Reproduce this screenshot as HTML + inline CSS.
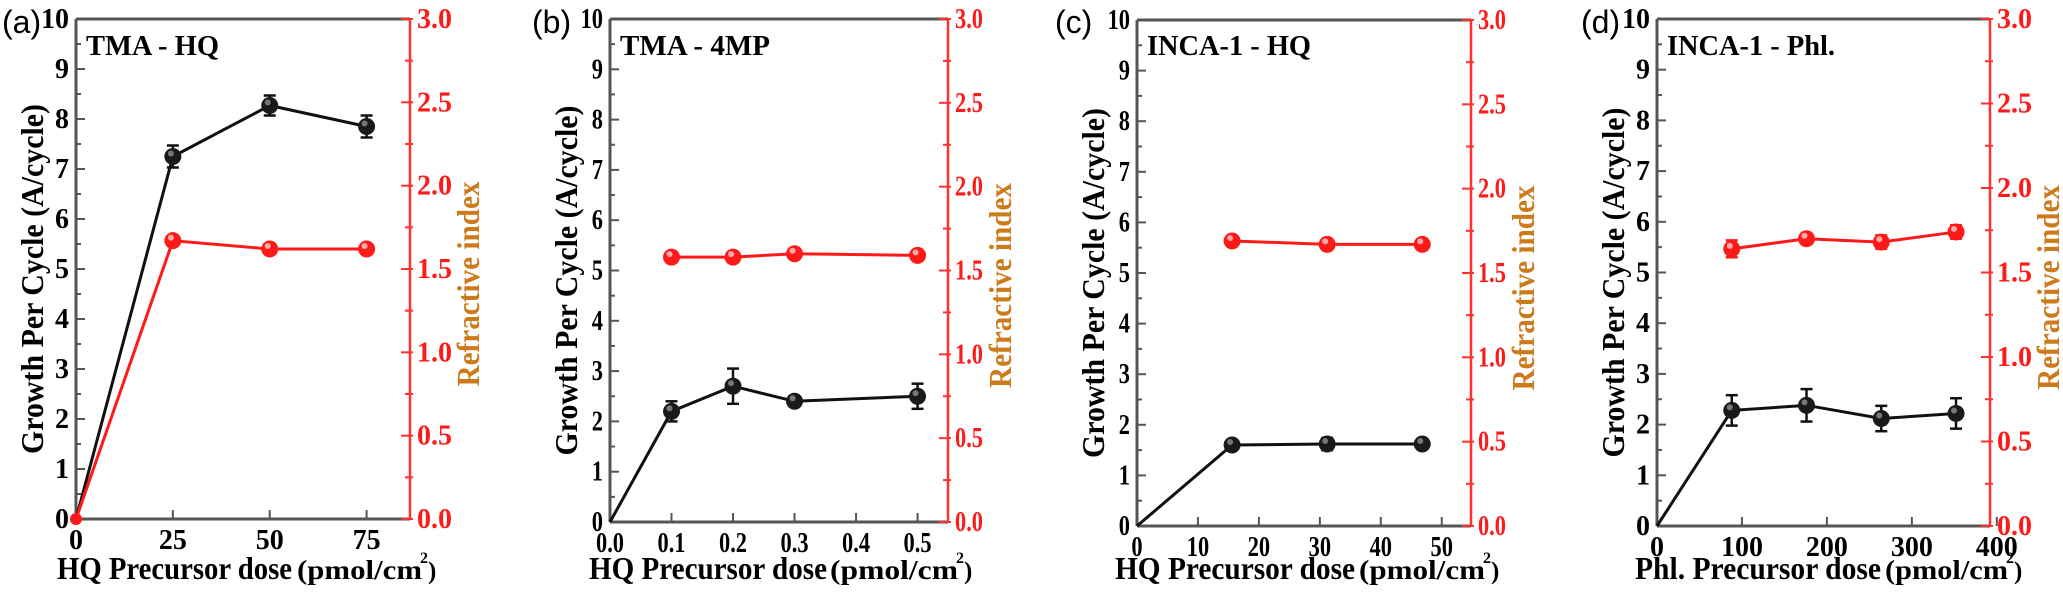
<!DOCTYPE html>
<html><head><meta charset="utf-8"><style>
html,body{margin:0;padding:0;background:#fff;}
svg{display:block;}
text{font-family:"Liberation Serif","DejaVu Serif",serif;font-weight:bold;}
</style></head><body>
<svg id="s" width="2063" height="596" viewBox="0 0 2063 596" xmlns="http://www.w3.org/2000/svg" font-family="Liberation Serif, serif" font-weight="bold"></svg>
<script>
const P=[
 {lab:"(a)",lx:2,title:"TMA - HQ",tw:133,L:76,R:410,T:19,B:519,xmax:86.2,xt:[[0,"0"],[25,"25"],[50,"50"],[75,"75"]],
  xl:"HQ Precursor dose",mx:57,ml:235,px:297,pl:135,
  k:[[0,0,0],[25,7.25,0.22],[50,8.27,0.2],[75,7.85,0.22]],r:[[0,0],[25,1.67],[50,1.62],[75,1.62]],condensed:false},
 {lab:"(b)",lx:532,title:"TMA - 4MP",tw:150,L:610,R:948,T:19,B:522,xmax:0.5495,xt:[[0,"0.0"],[0.1,"0.1"],[0.2,"0.2"],[0.3,"0.3"],[0.4,"0.4"],[0.5,"0.5"]],
  xl:"HQ Precursor dose",mx:589,ml:238,px:830,pl:138,
  k:[[0,0,0],[0.1,2.2,0.2],[0.2,2.7,0.35],[0.3,2.4,0.08],[0.5,2.5,0.25]],r:[[0.1,1.58],[0.2,1.58],[0.3,1.6],[0.5,1.59]],condensed:true},
 {lab:"(c)",lx:1055,title:"INCA-1 - HQ",tw:164,L:1137,R:1471,T:20,B:526,xmax:54.8,xt:[[0,"0"],[10,"10"],[20,"20"],[30,"30"],[40,"40"],[50,"50"]],
  xl:"HQ Precursor dose",mx:1115,ml:240,px:1359,pl:136,
  k:[[0,0,0],[15.6,1.6,0.05],[31.2,1.62,0.12],[46.8,1.62,0.05]],r:[[15.6,1.69],[31.2,1.67],[46.8,1.67]],condensed:true},
 {lab:"(d)",lx:1581,title:"INCA-1 - Phl.",tw:168,L:1657,R:1990,T:19,B:526,xmax:392,xt:[[0,"0"],[100,"100"],[200,"200"],[300,"300"],[400,"400"]],
  xl:"Phl. Precursor dose",mx:1635,ml:246,px:1885,pl:133,
  k:[[0,0,0],[88,2.28,0.3],[176,2.38,0.32],[264,2.12,0.25],[352,2.22,0.3]],r:[[88,1.64,0.05],[176,1.7,0.03],[264,1.68,0.04],[352,1.74,0.04]],condensed:false}
];
const F='font-family="Liberation Serif, serif" font-weight="bold"';
let h='';
for(const p of P){
 const X=v=>p.L+(p.R-p.L)*v/p.xmax, Y=v=>p.B-(p.B-p.T)*v/10, YR=v=>p.B-(p.B-p.T)*v/3;
 const sx=p.condensed?0.8:1;
 h+=`<line x1="${p.L}" y1="${p.T}" x2="${p.R}" y2="${p.T}" stroke="#555" stroke-width="3"/>`;
 h+=`<line x1="${p.L}" y1="${p.T}" x2="${p.L}" y2="${p.B}" stroke="#555" stroke-width="3"/>`;
 h+=`<line x1="${p.L}" y1="${p.B}" x2="${p.R}" y2="${p.B}" stroke="#555" stroke-width="3"/>`;
 h+=`<line x1="${p.R}" y1="${p.T}" x2="${p.R}" y2="${p.B}" stroke="#ff3030" stroke-width="2.5"/>`;
 for(let i=0;i<=20;i++){const y=Y(i/2);h+=`<line x1="${p.L}" y1="${y}" x2="${p.L+(i%2?5:9)}" y2="${y}" stroke="#555" stroke-width="2"/>`;
  if(i%2==0){h+=`<text ${F} x="${p.L-7}" y="${y+9}" font-size="28" text-anchor="end" transform="translate(${p.L-7} 0) scale(${sx} 1) translate(${-(p.L-7)} 0)">${i/2}</text>`;}}
 for(let i=0;i<=12;i++){const y=YR(i/4);h+=`<line x1="${p.R+3}" y1="${y}" x2="${p.R-(i%2?5:9)}" y2="${y}" stroke="#ff3030" stroke-width="2"/>`;
  if(i%2==0){h+=`<text ${F} x="${p.R+7}" y="${y+9}" font-size="28" fill="#ff1a1a" transform="translate(${p.R+7} 0) scale(${sx} 1) translate(${-(p.R+7)} 0)">${(i/4).toFixed(1)}</text>`;}}
 for(const [v,s] of p.xt){const x=X(v);h+=`<line x1="${x}" y1="${p.B}" x2="${x}" y2="${p.B-9}" stroke="#555" stroke-width="2"/>`;
  h+=`<text ${F} x="${x}" y="${p.B+30}" font-size="28" text-anchor="middle" transform="translate(${x} 0) scale(${sx} 1) translate(${-x} 0)">${s}</text>`;}
 h+=`<text x="${p.lx}" y="33" font-size="32" font-family="Liberation Sans, sans-serif" font-weight="normal" style="font-family:'Liberation Sans',sans-serif;font-weight:normal">${p.lab}</text>`;
 h+=`<text ${F} x="${p.L+10}" y="55" font-size="29" textLength="${p.tw}" lengthAdjust="spacingAndGlyphs">${p.title}</text>`;
 h+=`<text ${F} x="${p.mx}" y="579" font-size="32" textLength="${p.ml}" lengthAdjust="spacingAndGlyphs">${p.xl}</text>`;
 h+=`<text ${F} x="${p.px}" y="579" font-size="27" textLength="${p.pl-10}" lengthAdjust="spacingAndGlyphs">(pmol/cm</text>`;
 h+=`<text ${F} x="${p.px+p.pl-12}" y="563" font-size="16">2</text>`;
 h+=`<text ${F} x="${p.px+p.pl-4}" y="579" font-size="25">)</text>`;
 const ycy=(p.T+p.B)/2+5;
 h+=`<text ${F} transform="translate(${p.L-33} ${ycy+5}) rotate(-90)" font-size="32" text-anchor="middle" textLength="350" lengthAdjust="spacingAndGlyphs">Growth Per Cycle (A/cycle)</text>`;
 h+=`<text ${F} transform="translate(${p.R+(p.condensed?63:69)} ${ycy+10}) rotate(-90)" font-size="32" fill="#cc7a1a" text-anchor="middle" textLength="205" lengthAdjust="spacingAndGlyphs">Refractive index</text>`;
 h+=`<polyline fill="none" stroke="#111" stroke-width="3" points="${p.k.map(d=>X(d[0])+','+Y(d[1])).join(' ')}"/>`;
 h+=`<polyline fill="none" stroke="#ff1a1a" stroke-width="3" points="${p.r.map(d=>X(d[0])+','+YR(d[1])).join(' ')}"/>`;
 for(const d of p.k){const x=X(d[0]),y=Y(d[1]);
  if(d[1]==0){continue;}
  const e=d[2]*(p.B-p.T)/10;
  if(e>3){h+=`<line x1="${x}" y1="${y-e}" x2="${x}" y2="${y+e}" stroke="#111" stroke-width="2.5"/><line x1="${x-6}" y1="${y-e}" x2="${x+6}" y2="${y-e}" stroke="#111" stroke-width="2.5"/><line x1="${x-6}" y1="${y+e}" x2="${x+6}" y2="${y+e}" stroke="#111" stroke-width="2.5"/>`;}
  h+=`<circle cx="${x}" cy="${y}" r="8.5" fill="#1a1a1a"/><circle cx="${x-2}" cy="${y-3}" r="3" fill="#777"/>`;}
 for(const d of p.r){const x=X(d[0]),y=YR(d[1]);
  if(d[1]==0){h+=`<circle cx="${x}" cy="${y}" r="6" fill="#ff1a1a"/>`;continue;}
  if(d[2]){const e=d[2]*(p.B-p.T)/3;h+=`<line x1="${x}" y1="${y-e}" x2="${x}" y2="${y+e}" stroke="#ff1a1a" stroke-width="2.5"/><line x1="${x-6}" y1="${y-e}" x2="${x+6}" y2="${y-e}" stroke="#ff1a1a" stroke-width="2.5"/><line x1="${x-6}" y1="${y+e}" x2="${x+6}" y2="${y+e}" stroke="#ff1a1a" stroke-width="2.5"/>`;}
  h+=`<circle cx="${x}" cy="${y}" r="8.5" fill="#ff1a1a"/><circle cx="${x-2}" cy="${y-3}" r="3" fill="#ffaaaa"/>`;}
}
document.getElementById('s').innerHTML=h;
</script>
</body></html>
